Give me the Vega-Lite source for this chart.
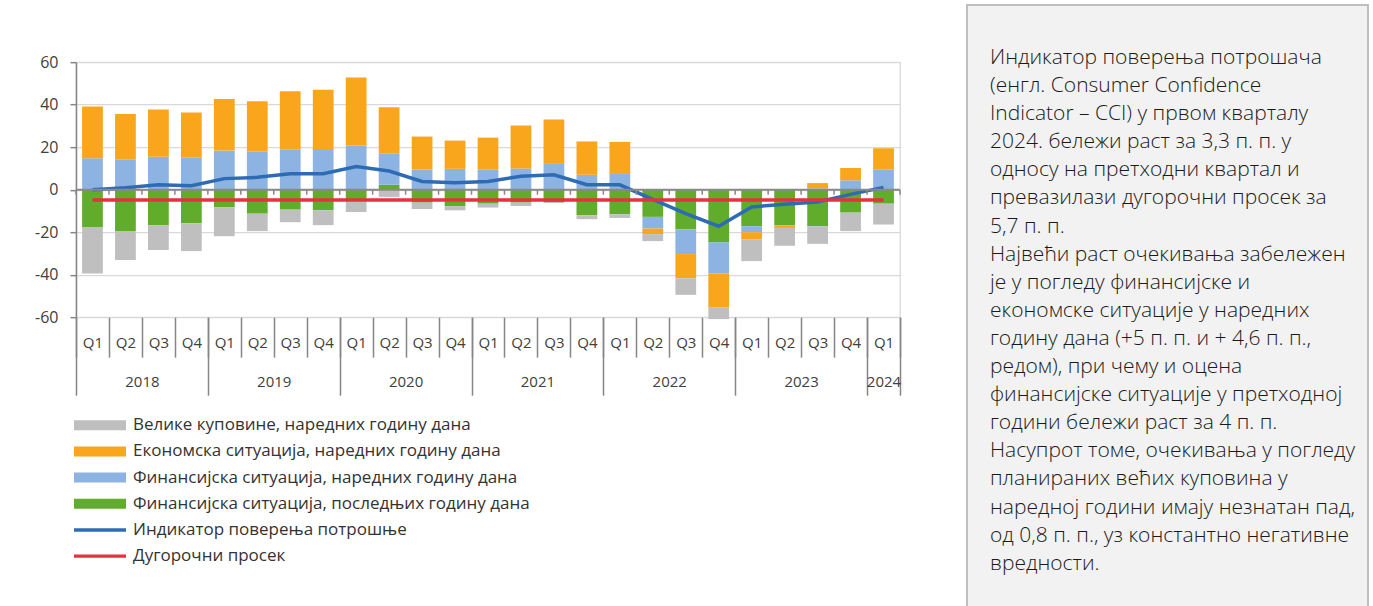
{
  "$schema": "https://vega.github.io/schema/vega-lite/v6.json",
  "background": "white",
  "padding": {"left": 33, "top": 4, "right": 0, "bottom": 0},
  "spacing": 64,
  "center": true,
  "resolve": {"legend": {"color": "independent"}},
  "config": {"font": "Open Sans"},
  "datasets": {
    "q": [
      {"p": "2018 Q1", "G": -17.8, "B": 14.8, "E": 24.3, "K": -21.6, "C": 0.0},
      {"p": "2018 Q2", "G": -19.5, "B": 14.1, "E": 21.5, "K": -13.6, "C": 0.9},
      {"p": "2018 Q3", "G": -16.7, "B": 15.5, "E": 22.2, "K": -11.7, "C": 2.3},
      {"p": "2018 Q4", "G": -15.8, "B": 15.0, "E": 21.3, "K": -13.1, "C": 1.9},
      {"p": "2019 Q1", "G": -8.3, "B": 18.4, "E": 24.3, "K": -13.6, "C": 5.2},
      {"p": "2019 Q2", "G": -11.3, "B": 17.8, "E": 23.8, "K": -8.2, "C": 5.8},
      {"p": "2019 Q3", "G": -9.4, "B": 18.8, "E": 27.5, "K": -5.9, "C": 7.5},
      {"p": "2019 Q4", "G": -9.7, "B": 19.2, "E": 27.8, "K": -7.0, "C": 7.5},
      {"p": "2020 Q1", "G": -5.5, "B": 20.8, "E": 32.0, "K": -5.0, "C": 10.9},
      {"p": "2020 Q2", "G": 2.3, "B": 14.6, "E": 21.9, "K": -3.4, "C": 8.8},
      {"p": "2020 Q3", "G": -6.1, "B": 9.5, "E": 15.5, "K": -3.0, "C": 3.9},
      {"p": "2020 Q4", "G": -7.7, "B": 9.8, "E": 13.3, "K": -2.0, "C": 3.3},
      {"p": "2021 Q1", "G": -6.6, "B": 9.4, "E": 15.1, "K": -1.8, "C": 3.9},
      {"p": "2021 Q2", "G": -6.1, "B": 10.0, "E": 20.2, "K": -1.6, "C": 6.3},
      {"p": "2021 Q3", "G": -5.8, "B": 12.5, "E": 20.5, "K": -0.5, "C": 7.0},
      {"p": "2021 Q4", "G": -12.0, "B": 7.0, "E": 15.7, "K": -1.9, "C": 2.3},
      {"p": "2022 Q1", "G": -11.6, "B": 7.8, "E": 14.7, "K": -1.7, "C": 2.3},
      {"p": "2022 Q2", "G": -12.8, "B": -5.5, "E": -2.6, "K": -3.3, "C": -4.6},
      {"p": "2022 Q3", "G": -18.6, "B": -11.7, "E": -11.4, "K": -7.8, "C": -11.3},
      {"p": "2022 Q4", "G": -24.8, "B": -14.6, "E": -16.1, "K": -5.4, "C": -17.2},
      {"p": "2023 Q1", "G": -17.2, "B": -2.8, "E": -3.3, "K": -10.3, "C": -8.1},
      {"p": "2023 Q2", "G": -16.7, "B": -0.3, "E": -1.0, "K": -8.4, "C": -6.9},
      {"p": "2023 Q3", "G": -17.2, "B": 0.6, "E": 2.5, "K": -8.3, "C": -5.8},
      {"p": "2023 Q4", "G": -10.8, "B": 4.4, "E": 5.8, "K": -8.7, "C": -2.2},
      {"p": "2024 Q1", "G": -6.6, "B": 9.4, "E": 10.1, "K": -9.8, "C": 1.1}
    ],
    "ser": [
      {"k": "G", "s": "Финансијска ситуација, последњих годину дана", "o": 1},
      {"k": "B", "s": "Финансијска ситуација, наредних годину дана", "o": 2},
      {"k": "E", "s": "Економска ситуација, наредних годину дана", "o": 3},
      {"k": "K", "s": "Велике куповине, наредних годину дана", "o": 4}
    ],
    "bnd": [
      {"b": 0}, {"b": 1}, {"b": 2}, {"b": 3}, {"b": 4}, {"b": 5}, {"b": 6}, {"b": 7}, {"b": 8}, {"b": 9},
      {"b": 10}, {"b": 11}, {"b": 12}, {"b": 13}, {"b": 14}, {"b": 15}, {"b": 16}, {"b": 17}, {"b": 18},
      {"b": 19}, {"b": 20}, {"b": 21}, {"b": 22}, {"b": 23}, {"b": 24}, {"b": 25}
    ],
    "yrs": [
      {"c": 2, "y": "2018"}, {"c": 6, "y": "2019"}, {"c": 10, "y": "2020"}, {"c": 14, "y": "2021"},
      {"c": 18, "y": "2022"}, {"c": 22, "y": "2023"}, {"c": 24.5, "y": "2024"}
    ],
    "txt": [
      {"i": 0, "t": "Индикатор поверења потрошача"},
      {"i": 1, "t": "(енгл. Consumer Confidence"},
      {"i": 2, "t": "Indicator – CCI) у првом кварталу"},
      {"i": 3, "t": "2024. бележи раст за 3,3 п. п. у"},
      {"i": 4, "t": "односу на претходни квартал и"},
      {"i": 5, "t": "превазилази дугорочни просек за"},
      {"i": 6, "t": "5,7 п. п."},
      {"i": 7, "t": "Највећи раст очекивања забележен"},
      {"i": 8, "t": "је у погледу финансијске и"},
      {"i": 9, "t": "економске ситуације у наредних"},
      {"i": 10, "t": "годину дана (+5 п. п. и + 4,6 п. п.,"},
      {"i": 11, "t": "редом), при чему и оцена"},
      {"i": 12, "t": "финансијске ситуације у претходној"},
      {"i": 13, "t": "години бележи раст за 4 п. п."},
      {"i": 14, "t": "Насупрот томе, очекивања у погледу"},
      {"i": 15, "t": "планираних већих куповина у"},
      {"i": 16, "t": "наредној години имају незнатан пад,"},
      {"i": 17, "t": "од 0,8 п. п., уз константно негативне"},
      {"i": 18, "t": "вредности."}
    ]
  },
  "hconcat": [
    {
      "width": 824,
      "height": 255,
      "view": {"stroke": "#d9d9d9", "strokeWidth": 1.3},
      "resolve": {"scale": {"x": "independent"}, "axis": {"x": "independent"}},
      "layer": [
        {
          "layer": [
            {
              "data": {"name": "q"},
              "transform": [
                {"fold": ["G", "B", "E", "K"], "as": ["k", "v"]},
                {"lookup": "k", "from": {"data": {"name": "ser"}, "key": "k", "fields": ["s", "o"]}}
              ],
              "mark": {"type": "bar", "width": {"band": 0.63}},
              "encoding": {
                "x": {
                  "field": "p", "type": "ordinal", "sort": null,
                  "scale": {"type": "band", "paddingInner": 0, "paddingOuter": 0},
                  "axis": {
                    "orient": "bottom", "title": null, "domain": false, "grid": false,
                    "tickBand": "extent", "tickSize": 40, "tickColor": "#868686", "tickWidth": 1.5,
                    "labelPadding": -22, "labelFontSize": 15, "labelColor": "#404040", "labelAngle": 0,
                    "labelBaseline": "top", "labelExpr": "split(datum.label, ' ')[1]"
                  }
                },
                "y": {
                  "field": "v", "type": "quantitative",
                  "scale": {"domain": [-60, 60], "nice": false},
                  "axis": {
                    "title": null, "values": [-60, -40, -20, 0, 20, 40, 60],
                    "labelExpr": "toString(datum.value)",
                    "grid": true, "gridColor": "#d9d9d9", "gridWidth": 1.3,
                    "domainColor": "#868686", "domainWidth": 1.5,
                    "tickColor": "#868686", "tickSize": 6, "tickWidth": 1.5,
                    "labelFontSize": 16, "labelColor": "#404040", "labelPadding": 12
                  }
                },
                "color": {
                  "field": "s", "type": "nominal",
                  "scale": {
                    "domain": [
                      "Велике куповине, наредних годину дана",
                      "Економска ситуација, наредних годину дана",
                      "Финансијска ситуација, наредних годину дана",
                      "Финансијска ситуација, последњих годину дана",
                      "Индикатор поверења потрошње",
                      "Дугорочни просек"
                    ],
                    "range": ["#bfbfbf", "#f9a61d", "#8db3e2", "#62ac2c", "#2e6bb5", "#e5323e"]
                  },
                  "legend": {
                    "title": null, "orient": "bottom", "offset": 19,
                    "direction": "vertical", "columns": 1, "padding": 0,
                    "symbolType": "M-2.6,-0.5H2.6V0.5H-2.6Z", "symbolSize": 400,
                    "symbolStrokeWidth": 0, "symbolOffset": 14, "labelOffset": 23,
                    "labelFontSize": 17, "labelColor": "#333333", "labelLimit": 600,
                    "rowPadding": 8.2, "symbolOpacity": 1,
                    "encode": {
                      "symbols": {
                        "update": {
                          "shape": {"signal": "datum.value === 'Индикатор поверења потрошње' || datum.value === 'Дугорочни просек' ? 'M-2.6,-0.17H2.6V0.17H-2.6Z' : 'M-2.6,-0.5H2.6V0.5H-2.6Z'"},
                          "fill": {"scale": "color", "field": "value"},
                          "stroke": {"value": "transparent"},
                          "opacity": {"value": 1}
                        }
                      }
                    }
                  }
                },
                "order": {"field": "o", "type": "quantitative"}
              }
            },
            {
              "data": {"name": "q"},
              "mark": {"type": "line", "strokeWidth": 3.5},
              "encoding": {
                "x": {"field": "p", "type": "ordinal", "sort": null},
                "y": {"field": "C", "type": "quantitative"},
                "color": {"datum": "Индикатор поверења потрошње"}
              }
            },
            {
              "data": {"name": "q"},
              "mark": {"type": "line", "strokeWidth": 3.5},
              "encoding": {
                "x": {"field": "p", "type": "ordinal", "sort": null},
                "y": {"datum": -4.8},
                "color": {"datum": "Дугорочни просек"}
              }
            },
            {
              "data": {"values": [{}]},
              "mark": {"type": "rule", "color": "#898989", "strokeWidth": 2},
              "encoding": {"y": {"datum": 0}}
            }
          ]
        },
        {
          "data": {"name": "bnd"},
          "mark": {"type": "rule", "color": "#898989", "strokeWidth": 1.5},
          "encoding": {
            "x": {
              "field": "b", "type": "quantitative",
              "scale": {"domain": [0, 25], "nice": false, "zero": false},
              "axis": {
                "orient": "bottom", "title": null, "values": [0, 4, 8, 12, 16, 20, 24, 25],
                "labels": false, "domain": false, "grid": false,
                "tickSize": 78, "tickColor": "#868686", "tickWidth": 1.5
              }
            },
            "y": {"datum": 0},
            "y2": {"datum": -2.4}
          }
        },
        {
          "data": {"name": "yrs"},
          "mark": {"type": "rule", "opacity": 0},
          "encoding": {
            "x": {
              "field": "c", "type": "quantitative",
              "scale": {"domain": [0, 25], "nice": false, "zero": false},
              "axis": {
                "orient": "bottom", "title": null, "values": [2, 6, 10, 14, 18, 22, 24.5],
                "labelExpr": "datum.value == 24.5 ? '2024' : '' + (2018 + (datum.value - 2) / 4)",
                "ticks": false, "domain": false, "grid": false, "labelFlush": false,
                "labelPadding": 57, "labelFontSize": 15, "labelColor": "#404040", "labelBaseline": "top"
              }
            }
          }
        }
      ]
    },
    {
      "width": 401,
      "height": 616,
      "view": {"fill": "#f2f2f2", "stroke": "#bfbfbf", "strokeWidth": 2},
      "data": {"name": "txt"},
      "mark": {"type": "text", "align": "left", "baseline": "middle", "dx": 23, "fontSize": 21, "fontWeight": 300, "color": "#1a1a1a"},
      "encoding": {
        "x": {"datum": 0, "type": "quantitative", "scale": {"domain": [0, 1]}, "axis": null},
        "y": {
          "field": "i", "type": "quantitative",
          "scale": {"domain": [-1.886, 20.036], "reverse": true, "nice": false, "zero": false},
          "axis": null
        },
        "text": {"field": "t"}
      }
    }
  ]
}
